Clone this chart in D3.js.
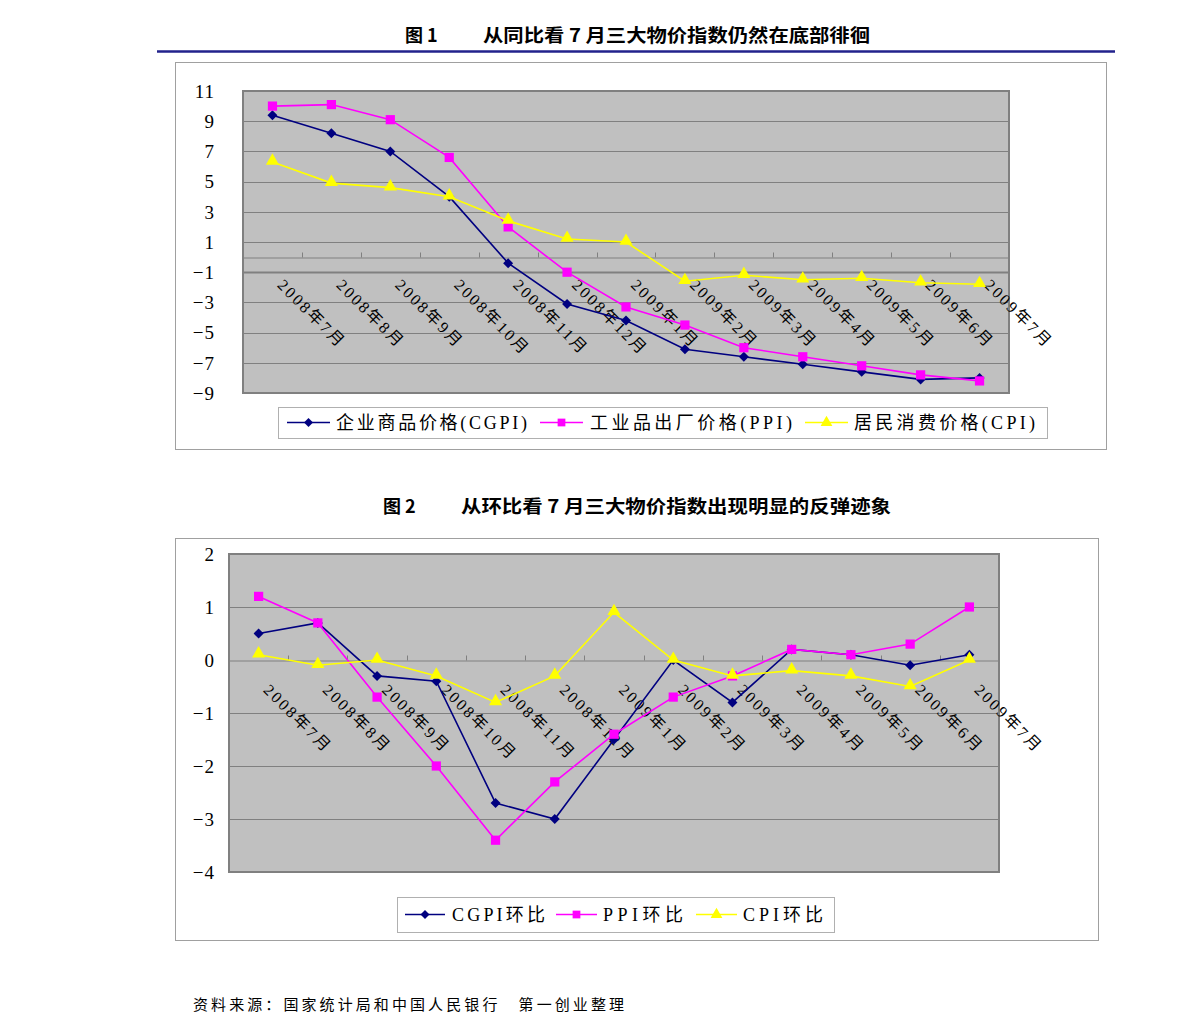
<!DOCTYPE html>
<html>
<head>
<meta charset="utf-8">
<script src="https://cdn.jsdelivr.net/npm/d3@7/dist/d3.min.js"></script>
<style>
  body { margin: 0; background: #fff; }
  svg { display: block; }
  text { font-family: "Liberation Serif", "Noto Sans CJK SC", serif; fill: #000; }
</style>
</head>
<body>
<svg id="chart" width="1191" height="1034"></svg>
<script>
// ---------------- data ----------------
const categories = ["2008年7月","2008年8月","2008年9月","2008年10月","2008年11月","2008年12月",
  "2009年1月","2009年2月","2009年3月","2009年4月","2009年5月","2009年6月","2009年7月"];

// Figure 1: year-on-year (%)
const cgpiYoY = [9.4, 8.2, 7.0, 4.0, -0.4, -3.1, -4.2, -6.1, -6.6, -7.1, -7.6, -8.1, -8.0];
const ppiYoY  = [10.0, 10.1, 9.1, 6.6, 2.0, -1.0, -3.3, -4.5, -6.0, -6.6, -7.2, -7.8, -8.2];
const cpiYoY  = [6.3, 4.9, 4.6, 4.0, 2.4, 1.2, 1.0, -1.6, -1.2, -1.5, -1.4, -1.7, -1.8];

// Figure 2: month-on-month (%)
const cgpiMoM = [0.5, 0.7, -0.3, -0.4, -2.7, -3.0, -1.5, 0.0, -0.8, 0.2, 0.1, -0.1, 0.1];
const ppiMoM  = [1.2, 0.7, -0.7, -2.0, -3.4, -2.3, -1.4, -0.7, -0.3, 0.2, 0.1, 0.3, 1.0];
const cpiMoM  = [0.1, -0.1, 0.0, -0.3, -0.8, -0.3, 0.9, 0.0, -0.3, -0.2, -0.3, -0.5, 0.0];

const yTicks1 = [11, 9, 7, 5, 3, 1, -1, -3, -5, -7, -9];
const yTicks2 = [2, 1, 0, -1, -2, -3, -4];

const legend1 = ["企业商品价格(CGPI)", "工业品出厂价格(PPI)", "居民消费价格(CPI)"];
const legend2 = ["CGPI环比", "PPI环比", "CPI环比"];

const title1a = "图 1", title1b = "从同比看 7 月三大物价指数仍然在底部徘徊";
const title2a = "图 2", title2b = "从环比看 7 月三大物价指数出现明显的反弹迹象";
const sourceNote = "资料来源：国家统计局和中国人民银行　第一创业整理";

// ---------------- styles ----------------
const seriesColors = ["#000080", "#FF00FF", "#FFFF00"];
const seriesShapes = [d3.symbolSquare, d3.symbolSquare, d3.symbolTriangle];
const seriesRot = [45, 0, 0];

const svg = d3.select("#chart");

// Titles
function title(a, b, xa, xb, xEnd, y) {
  svg.append("text").attr("x", xa).attr("y", y)
    .attr("font-size", 18).attr("font-weight", "bold")
    .style("font-family", "'Noto Sans CJK SC', sans-serif").text(a);
  svg.append("text").attr("x", xb).attr("y", y)
    .attr("font-size", 18).attr("font-weight", "bold")
    .attr("textLength", xEnd - xb).attr("lengthAdjust", "spacingAndGlyphs")
    .style("font-family", "'Noto Sans CJK SC', sans-serif").text(b);
}
title(title1a, title1b, 405, 483, 870, 42);
svg.append("line").attr("x1", 157).attr("x2", 1115).attr("y1", 51.5).attr("y2", 51.5)
  .attr("stroke", "#22228c").attr("stroke-width", 2.5);
title(title2a, title2b, 383, 461, 891, 513);

function drawChart(cfg) {
  // outer frame
  svg.append("rect").attr("x", cfg.box[0] + 0.5).attr("y", cfg.box[1] + 0.5)
    .attr("width", cfg.box[2] - cfg.box[0]).attr("height", cfg.box[3] - cfg.box[1])
    .attr("fill", "#fff").attr("stroke", "#a0a0a0").attr("stroke-width", 1);

  const x = d3.scaleBand().domain(categories).range([cfg.plot[0], cfg.plot[2]]).paddingInner(0).paddingOuter(0);
  const y = d3.scaleLinear().domain(cfg.domain).range([cfg.plot[3], cfg.plot[1]]);
  const cx = d => x(d) + x.bandwidth() / 2;

  const g = svg.append("g");
  // plot background
  g.append("rect").attr("x", cfg.plot[0]).attr("y", cfg.plot[1])
    .attr("width", cfg.plot[2] - cfg.plot[0]).attr("height", cfg.plot[3] - cfg.plot[1])
    .attr("fill", "#C0C0C0");

  // gridlines
  g.append("g").selectAll("line").data(cfg.grid).join("line")
    .attr("x1", cfg.plot[0]).attr("x2", cfg.plot[2])
    .attr("y1", d => Math.round(y(d)) + 0.5).attr("y2", d => Math.round(y(d)) + 0.5)
    .attr("stroke", "#808080").attr("stroke-width", d => d === cfg.thick ? 2 : 1);

  // x axis at zero with inward ticks at category boundaries
  const y0 = Math.round(y(0)) + 0.5;
  const axis = d3.axisTop(x).tickSize(5).tickFormat("");
  const ag = g.append("g").attr("transform", `translate(0,${y0})`).call(axis);
  ag.select(".domain").attr("stroke", "#808080");
  ag.selectAll(".tick").remove();
  ag.selectAll(".btick").data(categories.slice(1)).join("line")
    .attr("x1", d => Math.round(x(d)) + 0.5).attr("x2", d => Math.round(x(d)) + 0.5)
    .attr("y1", -5).attr("y2", 0).attr("stroke", "#808080");

  // plot border
  g.append("rect").attr("x", cfg.plot[0]).attr("y", cfg.plot[1])
    .attr("width", cfg.plot[2] - cfg.plot[0]).attr("height", cfg.plot[3] - cfg.plot[1])
    .attr("fill", "none").attr("stroke", "#808080").attr("stroke-width", 2);

  // y tick labels
  const fmt = d3.format("d");
  svg.append("g").selectAll("text").data(cfg.yTicks).join("text")
    .attr("x", 215).attr("y", d => y(d)).attr("dy", "0.36em")
    .attr("text-anchor", "end").attr("font-size", 19).style("letter-spacing", "1px")
    .text(d => fmt(d));

  // x labels rotated
  svg.append("g").selectAll("text").data(categories).join("text")
    .attr("transform", d => `translate(${cx(d) + 4},${y(0) + cfg.labelOffset}) rotate(45)`)
    .attr("font-size", 16).style("letter-spacing", "2.4px")
    .text(d => d);

  // series
  cfg.series.forEach((vals, i) => {
    const line = d3.line().x((d, j) => cx(categories[j])).y(d => y(d));
    svg.append("path").datum(vals).attr("d", line)
      .attr("fill", "none").attr("stroke", seriesColors[i]).attr("stroke-width", 1.6);
    svg.append("g").selectAll("path").data(vals).join("path")
      .attr("transform", (d, j) => `translate(${cx(categories[j])},${y(d) + (i === 2 ? -1 : 0)}) rotate(${seriesRot[i]})`)
      .attr("d", d3.symbol().type(seriesShapes[i]).size(i === 0 ? 50 : (i === 1 ? 85 : 75)))
      .attr("fill", seriesColors[i]).attr("stroke", "none");
  });

  // legend
  const L = cfg.legend;
  svg.append("rect").attr("x", L.box[0] + 0.5).attr("y", L.box[1] + 0.5)
    .attr("width", L.box[2] - L.box[0]).attr("height", L.box[3] - L.box[1])
    .attr("fill", "#fff").attr("stroke", "#b0b0b0");
  const ly = (L.box[1] + L.box[3]) / 2;
  L.labels.forEach((lab, i) => {
    const it = L.items[i];
    svg.append("line").attr("x1", it[0]).attr("x2", it[1]).attr("y1", ly).attr("y2", ly)
      .attr("stroke", seriesColors[i]).attr("stroke-width", 1.6);
    svg.append("path").attr("transform", `translate(${(it[0] + it[1]) / 2},${ly}) rotate(${seriesRot[i]})`)
      .attr("d", d3.symbol().type(seriesShapes[i]).size(i === 0 ? 40 : 60))
      .attr("fill", seriesColors[i]);
    svg.append("text").attr("x", it[2]).attr("y", ly).attr("dy", "0.36em")
      .attr("font-size", 18).attr("textLength", it[3] - it[2]).attr("lengthAdjust", "spacing")
      .text(lab);
  });
}

drawChart({
  box: [175, 62, 1106, 449],
  plot: [243, 91, 1009, 393],
  domain: [-9, 11],
  grid: [9, 7, 5, 3, 1, -1, -3, -5, -7],
  thick: -1,
  yTicks: yTicks1,
  labelOffset: 29,
  series: [cgpiYoY, ppiYoY, cpiYoY],
  legend: {
    box: [278, 407, 1047, 438],
    labels: legend1,
    items: [[287, 330, 336, 527], [540, 583, 590, 792], [805, 848, 854, 1035]]
  }
});

drawChart({
  box: [175, 538, 1098, 940],
  plot: [229, 554, 999, 872],
  domain: [-4, 2],
  grid: [1, -1, -2, -3],
  thick: null,
  yTicks: yTicks2,
  labelOffset: 31,
  series: [cgpiMoM, ppiMoM, cpiMoM],
  legend: {
    box: [397, 897, 834, 932],
    labels: legend2,
    items: [[405, 445, 452, 545], [556, 597, 603, 683], [696, 737, 743, 823]]
  }
});

// source note
svg.append("text").attr("x", 193).attr("y", 1010).attr("font-size", 15)
  .attr("textLength", 624 - 193).attr("lengthAdjust", "spacing")
  .attr("fill", "#222").text(sourceNote);
</script>
</body>
</html>
